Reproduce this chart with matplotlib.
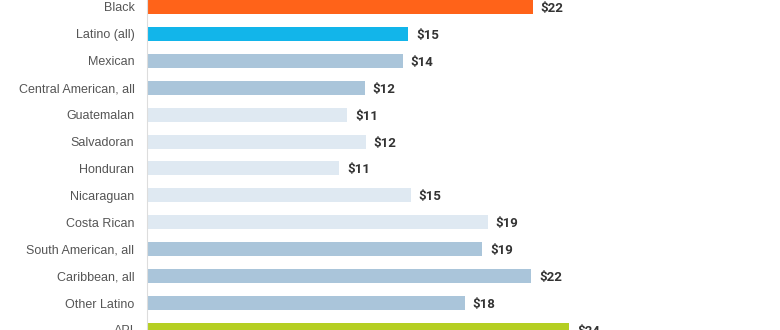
import matplotlib
matplotlib.use("Agg")
import matplotlib.pyplot as plt

groups = ["Black", "Latino (all)", "Mexican", "Central American, all", "Guatemalan",
          "Salvadoran", "Honduran", "Nicaraguan", "Costa Rican", "South American, all",
          "Caribbean, all", "Other Latino", "API"]
wages = [21.8, 14.75, 14.45, 12.3, 11.3, 12.35, 10.85, 14.9, 19.25, 18.95, 21.7, 17.95, 23.85]
wage_labels = ["$22", "$15", "$14", "$12", "$11", "$12", "$11", "$15", "$19", "$19", "$22", "$18", "$24"]

orange = "#ff6319"
cyan = "#12b5ea"
mid = "#aac5da"
light = "#dfe9f2"
green = "#b5cf22"
colors = [orange, cyan, mid, mid, light, light, light, light, light, mid, mid, mid, green]

plt.rcParams['font.family'] = ['Liberation Sans', 'DejaVu Sans']

fig = plt.figure(figsize=(7.8, 3.3), dpi=100)
ax = fig.add_axes([147 / 780, 0, 1 - 147 / 780, 1])

y = list(range(len(groups)))
ax.barh(y, wages, height=0.52, color=colors)
ax.set_xlim(0, 780 / 17.7 - 147 / 17.7)
ax.set_ylim(11.936, -0.255)

for i, (w, lab) in enumerate(zip(wages, wage_labels)):
    ax.text(w + 0.45, i, lab, va="center_baseline", ha="left", fontsize=9.5,
            fontweight="bold", color="#333333", family=["Roboto", "DejaVu Sans"])

ax.set_yticks(y)
ax.set_yticklabels(groups, fontsize=9, color="#555555", va="center_baseline")
ax.tick_params(axis="y", length=0, pad=9)
ax.set_xticks([])
for s in ["top", "right", "bottom"]:
    ax.spines[s].set_visible(False)
ax.spines["left"].set_color("#dddddd")

fig.savefig("out.png", dpi=100)
